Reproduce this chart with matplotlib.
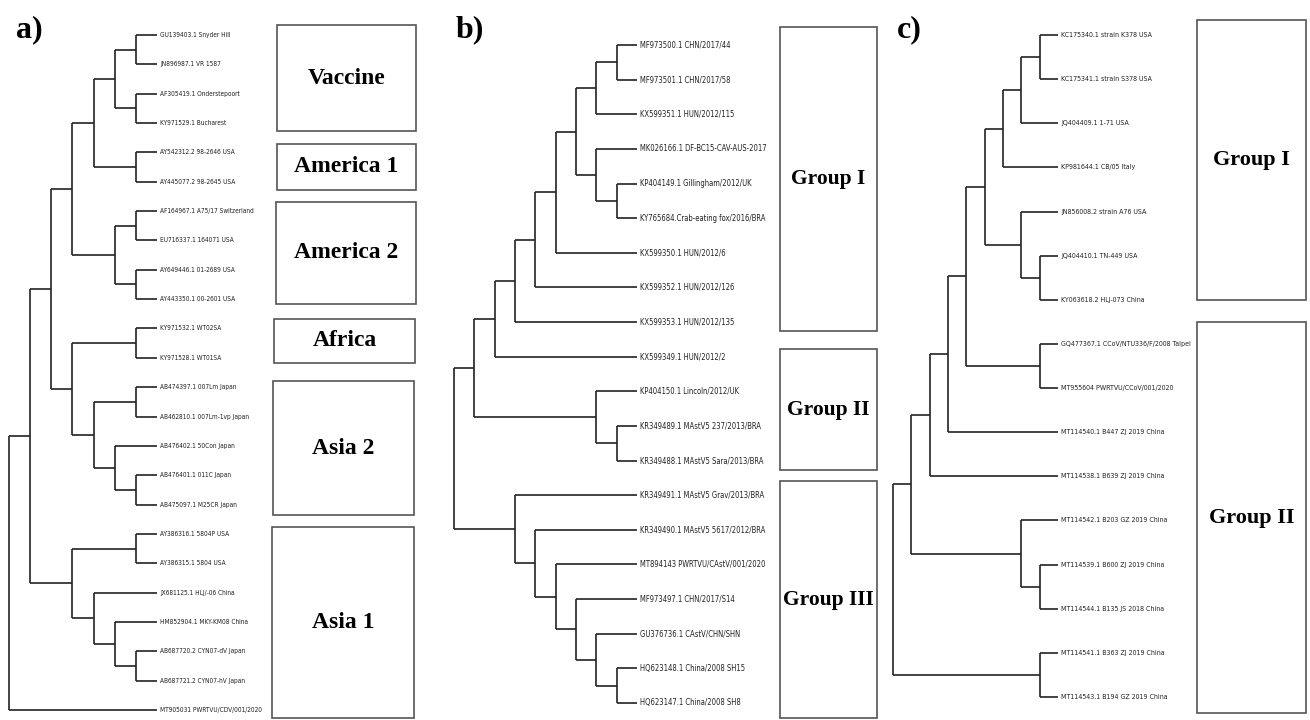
import matplotlib.pyplot as plt
from matplotlib.patches import Rectangle

# ---- datos: topologías (índices de hoja) y etiquetas ----
labels_a = [
    "GU139403.1 Snyder Hill", "JN896987.1 VR 1587", "AF305419.1 Onderstepoort",
    "KY971529.1 Bucharest", "AY542312.2 98-2646 USA", "AY445077.2 98-2645 USA",
    "AF164967.1 A75/17 Switzerland", "EU716337.1 164071 USA", "AY649446.1 01-2689 USA",
    "AY443350.1 00-2601 USA", "KY971532.1 WT02SA", "KY971528.1 WT01SA",
    "AB474397.1 007Lm Japan", "AB462810.1 007Lm-1vp Japan", "AB476402.1 50Con Japan",
    "AB476401.1 011C Japan", "AB475097.1 M25CR Japan", "AY386316.1 5804P USA",
    "AY386315.1 5804 USA", "JX681125.1 HLJ/-06 China", "HM852904.1 MKY-KM08 China",
    "AB687720.2 CYN07-dV Japan", "AB687721.2 CYN07-hV Japan", "MT905031 PWRTVU/CDV/001/2020",
]
vaccine = ((0, 1), (2, 3))
america1 = (4, 5)
america2 = ((6, 7), (8, 9))
africa = (10, 11)
asia2 = ((12, 13), (14, (15, 16)))
asia1 = ((17, 18), (19, (20, (21, 22))))
vac_am = ((vaccine, america1), america2)
tree_a = (((vac_am, (africa, asia2)), asia1), 23)

labels_b = [
    "MF973500.1 CHN/2017/44", "MF973501.1 CHN/2017/58", "KX599351.1 HUN/2012/115",
    "MK026166.1 DF-BC15-CAV-AUS-2017", "KP404149.1 Gillingham/2012/UK",
    "KY765684.Crab-eating fox/2016/BRA", "KX599350.1 HUN/2012/6", "KX599352.1 HUN/2012/126",
    "KX599353.1 HUN/2012/135", "KX599349.1 HUN/2012/2", "KP404150.1 Lincoln/2012/UK",
    "KR349489.1 MAstV5 237/2013/BRA", "KR349488.1 MAstV5 Sara/2013/BRA",
    "KR349491.1 MAstV5 Grav/2013/BRA", "KR349490.1 MAstV5 5617/2012/BRA",
    "MT894143 PWRTVU/CAstV/001/2020", "MF973497.1 CHN/2017/S14", "GU376736.1 CAstV/CHN/SHN",
    "HQ623148.1 China/2008 SH15", "HQ623147.1 China/2008 SH8",
]
g1 = (((0, 1), 2), (3, (4, 5)))
for leaf in [6, 7, 8, 9]:
    g1 = (g1, leaf)
g2 = (10, (11, 12))
g3 = (18, 19)
for leaf in [17, 16, 15, 14, 13]:
    g3 = (leaf, g3)
tree_b = ((g1, g2), g3)

labels_c = [
    "KC175340.1 strain K378 USA", "KC175341.1 strain S378 USA", "JQ404409.1 1-71 USA",
    "KP981644.1 CB/05 Italy", "JN856008.2 strain A76 USA", "JQ404410.1 TN-449 USA",
    "KY063618.2 HLJ-073 China", "GQ477367.1 CCoV/NTU336/F/2008 Taipei",
    "MT955604 PWRTVU/CCoV/001/2020", "MT114540.1 B447 ZJ 2019 China",
    "MT114538.1 B639 ZJ 2019 China", "MT114542.1 B203 GZ 2019 China",
    "MT114539.1 B600 ZJ 2019 China", "MT114544.1 B135 JS 2018 China",
    "MT114541.1 B363 ZJ 2019 China", "MT114543.1 B194 GZ 2019 China",
]
c1 = ((((0, 1), 2), 3), (4, (5, 6)))
c1 = (c1, (7, 8))
c1 = (c1, 9)
c1 = (c1, 10)
c1 = (c1, (11, (12, 13)))
tree_c = (c1, (14, 15))

# grupos: nombre y caja (x0, x1, y0, y1) en píxeles
groups_a = ["Vaccine", "America 1", "America 2", "Africa", "Asia 2", "Asia 1"]
boxes_a = [(277, 416, 25, 131), (277, 416, 144, 190), (276, 416, 202, 304),
           (274, 415, 319, 363), (273, 414, 381, 515), (272, 414, 527, 718)]
groups_b = ["Group I", "Group II", "Group III"]
boxes_b = [(780, 877, 27, 331), (780, 877, 349, 470), (780, 877, 481, 718)]
groups_c = ["Group I", "Group II"]
boxes_c = [(1197, 1306, 20, 300), (1197, 1306, 322, 713)]

narrow = ['Liberation Sans Narrow', 'DejaVu Sans']
serif = ['Liberation Serif', 'DejaVu Serif']
line_kw = dict(color='#222222', lw=1.2, solid_capstyle='butt')


def height(node):
    if isinstance(node, int):
        return 0
    return max(height(c) for c in node) + 1


def draw_tree(ax, tree, labels, x_root, x_tip, y_top, y_bot, fs):
    H = height(tree)
    step = (x_tip - x_root) / H
    dy = (y_bot - y_top) / (len(labels) - 1)

    def rec(node):
        if isinstance(node, int):
            return 0, y_top + node * dy
        kids = [rec(c) for c in node]
        h = max(k[0] for k in kids) + 1
        xn = x_root + (H - h) * step
        ys = [k[1] for k in kids]
        ax.plot([xn, xn], [min(ys), max(ys)], **line_kw)
        for hk, yk in kids:
            ax.plot([xn, x_root + (H - hk) * step], [yk, yk], **line_kw)
        return h, (min(ys) + max(ys)) / 2

    rec(tree)
    for i, lab in enumerate(labels):
        ax.text(x_tip + 3, y_top + i * dy, lab, fontsize=fs, family=narrow,
                fontstretch='condensed', va='center', ha='left', color='#222222')


def draw_boxes(ax, names, boxes, fs):
    for name, (x0, x1, y0, y1) in zip(names, boxes):
        ax.add_patch(Rectangle((x0, y0), x1 - x0, y1 - y0, fill=False,
                               edgecolor='#555555', lw=1.2))
        ax.text((x0 + x1) / 2, (y0 + y1) / 2, name, fontsize=fs, family=serif,
                fontweight='bold', ha='center', va='center')


fig = plt.figure(figsize=(13.1, 7.2), dpi=100)
ax = fig.add_axes([0, 0, 1, 1])
ax.set_xlim(0, 1310)
ax.set_ylim(720, 0)
ax.axis('off')

draw_tree(ax, tree_a, labels_a, 9, 157, 35, 710, 4.7)
draw_tree(ax, tree_b, labels_b, 454, 637, 45, 703, 5.5)
draw_tree(ax, tree_c, labels_c, 893, 1058, 35, 697, 5.0)

draw_boxes(ax, groups_a, boxes_a, 17)
draw_boxes(ax, groups_b, boxes_b, 15.5)
draw_boxes(ax, groups_c, boxes_c, 16)

for letter, x in [("a)", 16), ("b)", 456), ("c)", 897)]:
    ax.text(x, 30, letter, fontsize=23, family=serif, fontweight='bold',
            ha='left', va='center')

fig.savefig('out.png', dpi=100)
